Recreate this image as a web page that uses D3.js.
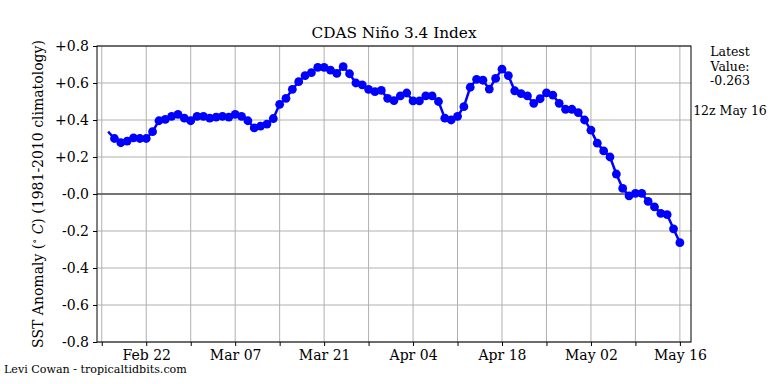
<!DOCTYPE html>
<html>
<head>
<meta charset="utf-8">
<script src="https://cdn.jsdelivr.net/npm/d3@7"></script>
<style>
  body { margin: 0; background: #fff; }
  svg { display: block; font-family: "DejaVu Serif", serif; }
</style>
</head>
<body>
<div id="grafik"></div>
<script>
// daily 12z values, first one is Feb 16 2020
const startDate = new Date(2020, 1, 16);
const anomaly = [
  0.337, 0.300, 0.277, 0.286, 0.303, 0.300, 0.300, 0.337, 0.396, 0.403,
  0.420, 0.430, 0.410, 0.396, 0.420, 0.420, 0.410, 0.416, 0.420, 0.416,
  0.430, 0.420, 0.396, 0.357, 0.367, 0.378, 0.408, 0.485, 0.517, 0.566,
  0.607, 0.640, 0.656, 0.685, 0.685, 0.670, 0.652, 0.688, 0.650, 0.600,
  0.590, 0.566, 0.553, 0.560, 0.517, 0.505, 0.530, 0.546, 0.503, 0.503,
  0.530, 0.530, 0.500, 0.410, 0.400, 0.420, 0.472, 0.577, 0.620, 0.615,
  0.567, 0.625, 0.675, 0.640, 0.558, 0.543, 0.530, 0.490, 0.515, 0.547,
  0.535, 0.490, 0.458, 0.458, 0.440, 0.400, 0.345, 0.275, 0.233, 0.200,
  0.108, 0.030, -0.010, 0.003, 0.003, -0.040, -0.070, -0.105, -0.112, -0.188,
  -0.263
];
const yTicks = [0.8, 0.6, 0.4, 0.2, 0, -0.2, -0.4, -0.6, -0.8];
const latestText = ["Latest", "Value:", "-0.263"];
const latestTime = "12z May 16";

const data = anomaly.map((v, i) => ({ date: d3.timeDay.offset(startDate, i), value: v }));

const W = 768, H = 384;
const margin = { top: 46, right: 77, bottom: 42, left: 97 };
const w = W - margin.left - margin.right;
const h = H - margin.top - margin.bottom;

const svg = d3.select("#grafik").append("svg")
  .attr("width", W).attr("height", H);

const g = svg.append("g")
  .attr("transform", `translate(${margin.left},${margin.top})`);

const x0 = d3.timeHour.offset(new Date(2020, 1, 15), -18);
const x1 = d3.timeHour.offset(new Date(2020, 4, 17), 18);
const x = d3.scaleTime().domain([x0, x1]).range([0, w]);
const y = d3.scaleLinear().domain([-0.8, 0.8]).range([h, 0]);

const weekTicks = d3.timeDay.range(new Date(2020, 1, 15), new Date(2020, 4, 18), 7);
const fmtY = d => (d > 0 ? "+" : "-") + Math.abs(d).toFixed(1);

// grid
g.append("g").selectAll("line").data(weekTicks).join("line")
  .attr("x1", d => x(d)).attr("x2", d => x(d))
  .attr("y1", 0).attr("y2", h)
  .attr("stroke", "#b0b0b0").attr("stroke-width", 1);
g.append("g").selectAll("line").data(yTicks).join("line")
  .attr("x1", 0).attr("x2", w)
  .attr("y1", d => y(d)).attr("y2", d => y(d))
  .attr("stroke", "#b0b0b0").attr("stroke-width", 1);

// zero line
g.append("line")
  .attr("x1", 0).attr("x2", w)
  .attr("y1", y(0)).attr("y2", y(0))
  .attr("stroke", "#555").attr("stroke-width", 1.4);

// axes
const xAxis = g.append("g")
  .attr("transform", `translate(0,${h})`)
  .call(d3.axisBottom(x).tickValues(weekTicks).tickSize(4).tickPadding(4)
    .tickFormat((d, i) => i % 2 ? d3.timeFormat("%b %d")(d) : ""));
const yAxis = g.append("g")
  .call(d3.axisLeft(y).tickValues(yTicks).tickSize(4).tickPadding(4).tickFormat(fmtY));
[xAxis, yAxis].forEach(a => {
  a.select(".domain").remove();
  a.selectAll("line").attr("stroke", "#000");
  a.selectAll("text").attr("fill", "#000")
    .style("font-family", "DejaVu Serif").style("font-size", "14px");
});

// frame
g.append("rect").attr("width", w).attr("height", h)
  .attr("fill", "none").attr("stroke", "#000").attr("stroke-width", 1);

// series
g.append("path").datum(data)
  .attr("fill", "none").attr("stroke", "#0000ff").attr("stroke-width", 2.5)
  .attr("stroke-linejoin", "round")
  .attr("d", d3.line().x(d => x(d.date)).y(d => y(d.value)));
g.append("g").selectAll("circle").data(data.slice(1)).join("circle")
  .attr("cx", d => x(d.date)).attr("cy", d => y(d.value))
  .attr("r", 4.4).attr("fill", "#0000ff");

// title
svg.append("text")
  .attr("x", margin.left + w / 2).attr("y", 38)
  .attr("text-anchor", "middle").style("font-size", "15.3px")
  .text("CDAS Niño 3.4 Index");

// y label
const yl = svg.append("text")
  .attr("transform", `translate(43,${margin.top + h / 2}) rotate(-90)`)
  .attr("text-anchor", "middle").style("font-size", "14px");
yl.append("tspan").text("SST Anomaly (");
yl.append("tspan").attr("dy", -5).style("font-size", "10px").text("∘");
yl.append("tspan").attr("dy", 5).text(" ");
yl.append("tspan").style("font-style", "italic").text("C");
yl.append("tspan").text(") (1981-2010 climatology)");

// latest value
svg.append("g").selectAll("text").data(latestText).join("text")
  .attr("x", 730).attr("y", (d, i) => 56 + i * 14.5)
  .attr("text-anchor", "middle").style("font-size", "12.5px")
  .text(d => d);
svg.append("text")
  .attr("x", 730).attr("y", 115)
  .attr("text-anchor", "middle").style("font-size", "12.5px")
  .text(latestTime);

// credit
svg.append("text")
  .attr("x", 4).attr("y", 373).style("font-size", "11.1px")
  .text("Levi Cowan - tropicaltidbits.com");
</script>
</body>
</html>
